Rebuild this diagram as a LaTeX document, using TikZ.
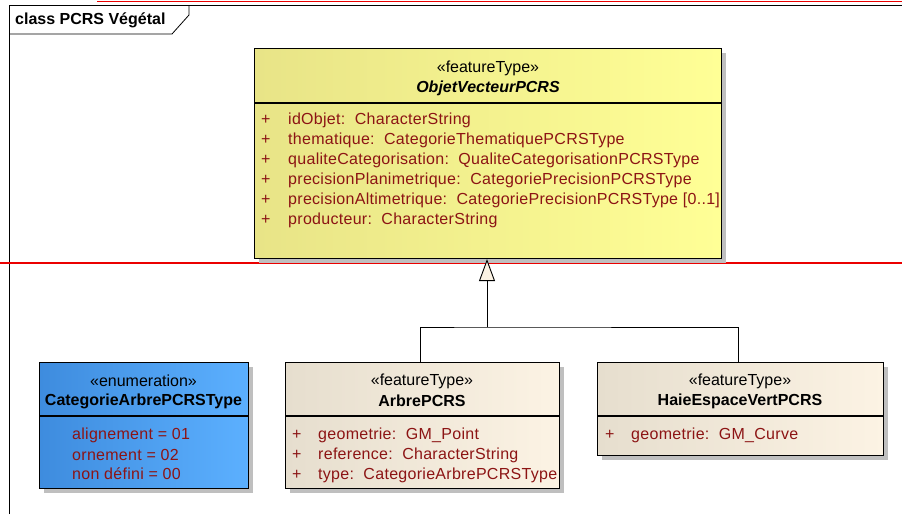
\documentclass[tikz,border=0pt]{standalone}
\usepackage{fontspec}
\setmainfont{Liberation Sans}
\newfontfamily\attrfont{Liberation Sans}[LetterSpace=1.8]
\usetikzlibrary{shadows,arrows.meta}

\definecolor{attrred}{RGB}{140,20,20}
\definecolor{pagered}{RGB}{235,0,0}
\definecolor{yelleft}{RGB}{232,228,135}
\definecolor{yelright}{RGB}{255,255,150}
\definecolor{blueleft}{RGB}{62,140,222}
\definecolor{blueright}{RGB}{92,176,255}
\definecolor{beigeleft}{RGB}{230,222,206}
\definecolor{beigeright}{RGB}{252,243,228}

\begin{document}
\begin{tikzpicture}[x=1pt, y=-1pt, font=\fontsize{16}{18}\selectfont,
    umlbox/.style = {draw, line width=1.1pt, anchor=north west, inner sep=0pt,
        drop shadow={shadow xshift=4pt, shadow yshift=-4pt, fill=black!25, opacity=1}},
    yellowbox/.style = {umlbox, left color=yelleft, right color=yelright},
    bluebox/.style = {umlbox, left color=blueleft, right color=blueright},
    beigebox/.style = {umlbox, left color=beigeleft, right color=beigeright},
    stereo/.style = {inner sep=0pt},
    classname/.style = {inner sep=0pt, font=\fontsize{16}{18}\selectfont\bfseries},
    attr/.style = {inner sep=0pt, anchor=west, text=attrred, font=\attrfont\fontsize{16}{18}\selectfont}]
\useasboundingbox (0,0) rectangle (902,514);

% frame
\draw[line width=0.8pt] (9,514) -- (9,5) -- (902,5);
\draw[line width=0.8pt] (9,34) -- (172,34) -- (189,15) -- (189,5);
\node[classname, anchor=west] (frametitle) at (15,20) {class PCRS Végétal};

% page break lines
\draw[pagered, line width=1.5pt] (97,1.5) -- (902,1.5);
\draw[pagered, line width=1.5pt] (0,263) -- (902,263);

% ObjetVecteurPCRS
\node[yellowbox, minimum width=467pt, minimum height=210pt] (objet) at (254,48) {};
\node[stereo] (objetst) at (488,68) {«featureType»};
\node[classname, font=\fontsize{16}{18}\selectfont\bfseries\itshape] (objetname) at (488,88) {ObjetVecteurPCRS};
\draw[line width=1.1pt] (objet.west |- 0,103) -- (objet.east |- 0,103);
\foreach \t [count=\i] in {idObjet:~~CharacterString,
    thematique:~~CategorieThematiquePCRSType,
    qualiteCategorisation:~~QualiteCategorisationPCRSType,
    precisionPlanimetrique:~~CategoriePrecisionPCRSType,
    precisionAltimetrique:~~CategoriePrecisionPCRSType [0..1],
    producteur:~~CharacterString} {
  \node[attr] (objplus\i) at (261,100+20*\i) {+};
  \node[attr] (objattr\i) at (288,100+20*\i) {\t};
}

% CategorieArbrePCRSType
\node[bluebox, minimum width=209pt, minimum height=126pt] (enum) at (39,362) {};
\node[stereo] (enumst) at (143.5,381) {«enumeration»};
\node[classname] (enumname) at (143.5,401) {CategorieArbrePCRSType};
\draw[line width=1.1pt] (enum.west |- 0,416) -- (enum.east |- 0,416);
\node[attr] (enumval1) at (72,435) {alignement = 01};
\node[attr] (enumval2) at (72,455) {ornement = 02};
\node[attr] (enumval3) at (72,474) {non défini = 00};

% ArbrePCRS
\node[beigebox, minimum width=274pt, minimum height=126pt] (arbre) at (285,362) {};
\node[stereo] (arbrest) at (422,381) {«featureType»};
\node[classname] (arbrename) at (422,401) {ArbrePCRS};
\draw[line width=1.1pt] (arbre.west |- 0,416) -- (arbre.east |- 0,416);
\foreach \t [count=\i] in {geometrie:~~GM\_Point,
    reference:~~CharacterString,
    type:~~CategorieArbrePCRSType} {
  \node[attr] (arbreplus\i) at (292,415+20*\i) {+};
  \node[attr] (arbreattr\i) at (318,415+20*\i) {\t};
}

% HaieEspaceVertPCRS
\node[beigebox, minimum width=286pt, minimum height=93pt] (haie) at (597,362) {};
\node[stereo] (haiest) at (740,381) {«featureType»};
\node[classname] (haiename) at (740,401) {HaieEspaceVertPCRS};
\draw[line width=1.1pt] (haie.west |- 0,416) -- (haie.east |- 0,416);
\node[attr] (haieplus1) at (605,435) {+};
\node[attr] (haieattr1) at (631,435) {geometrie:~~GM\_Curve};

% generalisation
\coordinate (joint) at (487,327);
\draw[line width=0.9pt] (arbre.north -| 420,0) |- (joint) -| (haie.north -| 738,0);
\draw[line width=0.9pt, -{Triangle[length=22pt, width=16pt, fill=beigeright]}] (joint) -- (objet.south -| joint);
\end{tikzpicture}
\end{document}
